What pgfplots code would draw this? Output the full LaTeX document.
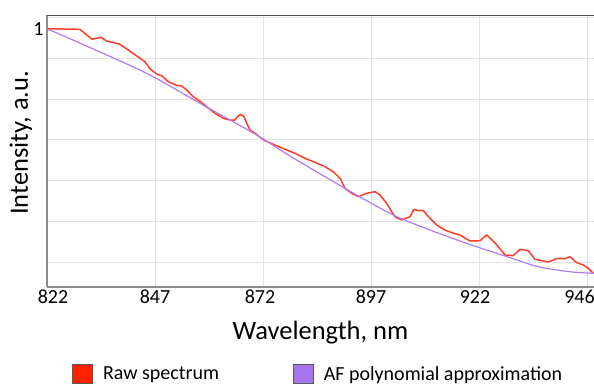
\documentclass[border=0pt]{standalone}
\usepackage{fontspec}
\setmainfont{Carlito}
\usepackage{pgfplots}
\pgfplotsset{compat=1.18}
\definecolor{rawred}{HTML}{FF3C28}
\definecolor{rawredfill}{HTML}{FF2200}
\definecolor{afpurple}{HTML}{B07CF2}
\definecolor{afpurplefill}{HTML}{A873EE}
\begin{document}
\begin{tikzpicture}
\begin{axis}[
  width=547bp, height=271.4bp, scale only axis,
  at={(0,0)}, anchor=south west,
  xmin=822, xmax=948.62, ymin=0.3673, ymax=1.0329,
  clip=false,
  axis line style={draw=none},
  major tick length=0,
  xtick={822,847,872,897,922,947},
  xticklabels={\hspace*{12bp}822,847,\hspace*{-6bp}872,897,\hspace*{-8bp}922,\hspace*{-15bp}946},
  xmajorgrids=true,
  ytick={1}, yticklabels={1},
  ymajorgrids=false,
  extra y ticks={0.4272,0.5272,0.6272,0.7272,0.8272,0.9272,1.0272},
  extra y tick labels={},
  extra y tick style={grid=major},
  grid style={color=black!11, line width=1bp},
  /pgf/number format/assume math mode=true,
  tick label style={font=\fontsize{20bp}{24bp}\selectfont},
  xlabel={Wavelength, nm},
  ylabel={Intensity, a.u.},
  every axis x label/.style={at={(axis description cs:0.5,0)}, anchor=center, yshift=-46bp, font=\fontsize{26.5bp}{30bp}\selectfont},
  every axis y label/.style={at={(axis description cs:-0.0475,0.53)}, rotate=90, anchor=center, font=\fontsize{26.5bp}{30bp}\selectfont},
  legend columns=2,
  legend style={draw=none, fill=none, at={(axis description cs:0.496,-0.322)}, anchor=center,
    font=\fontsize{20bp}{24bp}\selectfont,
    /tikz/every odd column/.append style={column sep=8bp},
    /tikz/every even column/.append style={column sep=72bp}},
]
\addplot[color=rawred, line width=1.5bp, line join=round,
  legend image code/.code={\draw[fill=rawredfill, draw=gray!70!black, line width=0.7bp] (0bp,-9.5bp) rectangle (20bp,9.5bp);}]
coordinates {
(822.07,1.0000) (829.64,0.9985) (832.35,0.9747) (833.11,0.9755) (834.50,0.9789)
(835.82,0.9698) (838.13,0.9642) (838.90,0.9617) (840.82,0.9478) (843.53,0.9274)
(844.69,0.9191) (845.84,0.9017) (847.39,0.8889) (848.55,0.8847) (850.08,0.8700)
(852.02,0.8612) (853.18,0.8595) (854.34,0.8497) (855.87,0.8333) (857.42,0.8220)
(858.97,0.8087) (860.89,0.7925) (862.81,0.7803) (864.36,0.7761) (865.52,0.7761)
(866.05,0.7842) (866.84,0.7901) (867.60,0.7842) (868.23,0.7680) (868.99,0.7516)
(870.15,0.7435) (871.31,0.7337) (872.46,0.7254) (874.78,0.7148) (877.49,0.7025)
(879.41,0.6945) (881.72,0.6822) (884.04,0.6724) (886.35,0.6616) (888.27,0.6493)
(889.82,0.6332) (890.98,0.6086) (892.53,0.5964) (894.06,0.5880) (896.00,0.5964)
(897.93,0.6003) (899.08,0.5922) (900.63,0.5718) (901.79,0.5513) (902.56,0.5390)
(904.11,0.5309) (906.03,0.5390) (906.95,0.5571) (907.95,0.5537) (909.11,0.5537)
(910.66,0.5351) (912.21,0.5186) (914.13,0.5064) (915.68,0.4998) (917.60,0.4941)
(919.92,0.4794) (922.23,0.4801) (923.78,0.4941) (925.70,0.4752) (928.02,0.4451)
(929.94,0.4434) (931.49,0.4590) (933.41,0.4556) (934.96,0.4345) (936.51,0.4311)
(938.04,0.4279) (939.99,0.4360) (941.91,0.4360) (943.06,0.4409) (944.62,0.4262)
(946.14,0.4206) (947.30,0.4125) (948.46,0.4002)
};
\addlegendentry{Raw spectrum}
\addplot[color=afpurple, line width=1.2bp, smooth,
  legend image code/.code={\draw[fill=afpurplefill, draw=gray!70!black, line width=0.7bp] (0bp,-9.5bp) rectangle (20bp,9.5bp);}]
coordinates {
(822.00,1.0000) (834.27,0.9429) (845.84,0.8865) (857.42,0.8171) (870.15,0.7418)
(878.25,0.6878) (890.98,0.6086) (903.02,0.5390) (916.91,0.4819) (928.48,0.4409)
(935.43,0.4169) (940.06,0.4083) (944.22,0.4027) (948.62,0.4002)
};
\addlegendentry{AF polynomial approximation}
\draw[color=black!45, line width=2bp] (rel axis cs:0,0) -- (rel axis cs:0,1);
\draw[color=black!45, line width=2bp] (rel axis cs:0,0) -- (rel axis cs:1,0);
\draw[color=black!70, line width=1.5bp] (rel axis cs:0,1) -- (rel axis cs:1,1);
\end{axis}
\pgfresetboundingbox
\path[use as bounding box] ([xshift=-47bp,yshift=-98.3bp]current axis.south west) rectangle ([yshift=15.3bp]current axis.north east);
\end{tikzpicture}
\end{document}
